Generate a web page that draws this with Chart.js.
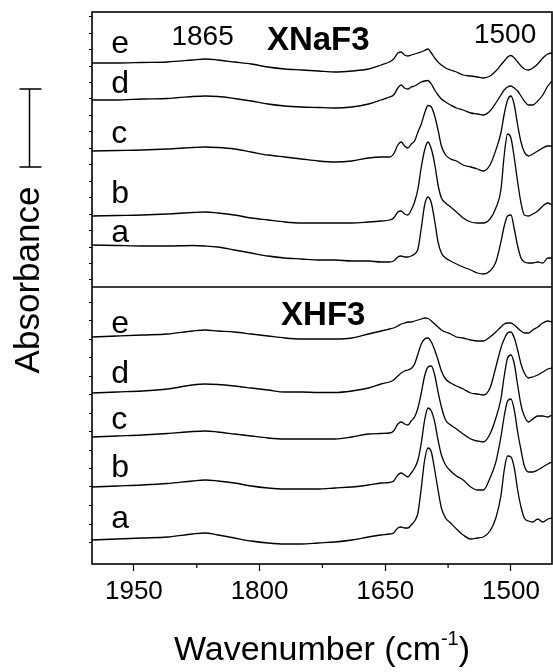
<!DOCTYPE html>
<html>
<head>
<meta charset="utf-8">
<script src="https://cdn.jsdelivr.net/npm/chart.js@4.4.0/dist/chart.umd.min.js"></script>
<style>
  html, body { margin: 0; padding: 0; background: #fff; }
  #wrap { width: 553px; height: 672px; }
</style>
</head>
<body>
<div id="wrap"><canvas id="spectra" width="553" height="672"></canvas></div>
<script>
// wavenumber grid (cm-1), shared by every trace
const wavenumbers = [2000,1970,1940,1910,1880,1865,1850,1830,1810,1790,1770,1750,1730,1710,1690,1670,1655,1645,1640,1635,
  1631,1627,1623,1619,1615,1611,1607,1603,1599,1595,1591,1587,1583,1578,1572,1565,1557,1548,1540,1533,
  1525,1518,1512,1508,1504,1500,1496,1492,1488,1484,1479,1474,1468,1462,1456,1451];

// XNaF3 panel (upper), offset absorbance, arbitrary units
const naE = [501,501,501.5,502,504,505,504,502,500,497,495,494,493,492,493,495,499,502,505,511,512,509,508,509,510,511,512,513.5,515,511,506,502,499,496,494,492,489,488,487,486,488,493,499,503,507,508.5,506,502,498,495,494,496,500,506,510,511];
const naD = [464,464,465,465.5,467.5,468,467.5,465.5,463,460,458,457,456.5,456,457,460,464,467,469,476,479,476,475,477,478,480,482,483,483.5,480,474,469,465,462,459,456,454,451,450,449,453,461,469,474,477,478,476,473,468,463,459,459,463,469,478,483];
const naC = [413,413.5,414,415,416.5,417,416.5,415,412,409,407,405,403,402,403,406,407,407,410,419,422,418,416,420,423,432,440,451,458.5,457,448,434,418,409,405,403,399,397,395,393,399,414,431,450,464,468,459,439,422,412,408,410,413,416,418,418];
const naB = [348,348.5,349,350,351.5,352,351,349,346,344,342,341,341,341,341,342,343,344,346,352,353,350,349,354,362,375,397,414,422,415,400,379,366,361,357,352,346,342,341,341,345,356,374,409,430,426,406,382,361,349,348,350,353,358,361,359];
const naA = [319,318.5,318,318,318.5,318,317,314,311,308,306,305,304,304,303,303,302,302,303,307,308,307,307,308,310,315,336,359,367,361,343,322,311,306,303,300,297,294,291,290,293,302,322,338,348,349,335,318,306,302,301,301,302,301,306,306];

// XHF3 panel (lower)
const hfE = [227,228,229,230,233,234,233,232,230,228,226,225,225,225,226,230,233,235,236,238,240,241,242,242,243,244,245,246,245.5,243,240,237,234,232,230,227,226,224,223,223,227,232,237,240,241,241,239,236,233,231,231,234,237,241,243,242];
const hfD = [171,172,173,175,179,180,179.5,178,176,174,172,172,171.5,171.5,173,176,180,182,184,188,191,193,194,195.5,200,210,220,225,226,222,214,204,193,185,181,178,175,171,170,169,176,197,216,225,231,232,226,214,200,191,186,187,189,192,195,196];
const hfC = [127,128,129,130.5,132.5,133,132,130,128,126,125,125,125,125,127,130,130.5,131,133,140,142,140,139,143,147,156,171,188,197,198,189,172,157,144,139,135,130,125,123,122,130,146,165,188,206,209,200,179,159,148,142,145,148,148,147,149];
const hfB = [77,78,79,80.5,83,84,83,81,78,76,75,75,75,76,77,79,81,81.5,83,89,91,89,87,91,96,104,121,144,156,153,142,124,109,99,93,88,84,77,74,74,86,102,127,148,163,165,154,132,114,98,92,92,94,97,100,102];
const hfA = [24,25,26,27,30,31,29,26,23,21,20,20,21,22,24,27,29,30,31,36,37,36,36,39,43,51,76,104,116,112,94,74,56,46,41,35,29,25,26,27,33,46,68,94,108,107,96,74,57,46,43,42,45,42,45,46];

const traceNames = ['a', 'b', 'c', 'd', 'e'];
const naTraces = [naA, naB, naC, naD, naE];
const hfTraces = [hfA, hfB, hfC, hfD, hfE];

// letter label baselines (same units as the traces)
const naLabelY = [322, 361, 421, 471, 511];
const hfLabelY = [36, 87, 135, 181, 231];
const labelX = 1977;

const majorTicks = [1950, 1800, 1650, 1500];
const minorTicks = [1875, 1725, 1575];
const xMin = 1451, xMax = 2000;
const yMin = 0, yMax = 552, panelSplit = 277;
const scaleBar = [397, 475];   // absorbance scale bar, from / to

const FONT = '"Liberation Sans", Arial, Helvetica, sans-serif';

function toPoints(vals) {
  return wavenumbers.map((w, i) => ({ x: w, y: vals[i] }));
}

const datasets = [];
[naTraces, hfTraces].forEach(group => {
  group.forEach((vals, i) => {
    datasets.push({
      label: traceNames[i],
      data: toPoints(vals),
      borderColor: '#000',
      borderWidth: 1.3,
      pointRadius: 0,
      fill: false,
      cubicInterpolationMode: 'monotone'
    });
  });
});

const decorations = {
  id: 'decorations',
  afterDraw(chart) {
    const { ctx, chartArea: a, scales: { x, y } } = chart;
    ctx.save();
    ctx.strokeStyle = '#000';
    ctx.fillStyle = '#000';
    ctx.lineWidth = 1.6;
    ctx.strokeRect(a.left, a.top, a.right - a.left, a.bottom - a.top);

    // divider between the two panels
    const ySplit = y.getPixelForValue(panelSplit);
    ctx.beginPath();
    ctx.moveTo(a.left, ySplit);
    ctx.lineTo(a.right, ySplit);
    ctx.stroke();

    // minor x ticks
    ctx.lineWidth = 1.2;
    minorTicks.forEach(w => {
      const px = x.getPixelForValue(w);
      ctx.beginPath();
      ctx.moveTo(px, a.bottom);
      ctx.lineTo(px, a.bottom + 4);
      ctx.stroke();
    });

    // trace letters
    ctx.font = '32px ' + FONT;
    ctx.textAlign = 'left';
    ctx.textBaseline = 'alphabetic';
    traceNames.forEach((n, i) => {
      ctx.fillText(n, x.getPixelForValue(labelX), y.getPixelForValue(naLabelY[i]));
      ctx.fillText(n, x.getPixelForValue(labelX), y.getPixelForValue(hfLabelY[i]));
    });

    // panel titles and peak marks
    ctx.textAlign = 'center';
    ctx.font = 'bold 33px ' + FONT;
    ctx.fillText('XNaF3', x.getPixelForValue(1730), y.getPixelForValue(514));
    ctx.fillText('XHF3', x.getPixelForValue(1724), y.getPixelForValue(239));
    ctx.font = '28px ' + FONT;
    ctx.fillText('1865', x.getPixelForValue(1868), y.getPixelForValue(519));
    ctx.fillText('1500', x.getPixelForValue(1507), y.getPixelForValue(521));

    // absorbance scale bar
    const bx = 29.5;
    const b0 = y.getPixelForValue(scaleBar[0]);
    const b1 = y.getPixelForValue(scaleBar[1]);
    ctx.lineWidth = 1.5;
    ctx.beginPath();
    ctx.moveTo(bx, b0); ctx.lineTo(bx, b1);
    ctx.moveTo(bx - 10, b0); ctx.lineTo(bx + 12, b0);
    ctx.moveTo(bx - 10, b1); ctx.lineTo(bx + 12, b1);
    ctx.stroke();

    // y title
    ctx.save();
    ctx.translate(29, 280);
    ctx.rotate(-Math.PI / 2);
    ctx.font = '35px ' + FONT;
    ctx.textAlign = 'center';
    ctx.textBaseline = 'middle';
    ctx.fillText('Absorbance', 0, 0);
    ctx.restore();

    // x title with superscript
    const big = '34px ' + FONT, small = '20px ' + FONT;
    ctx.textAlign = 'left';
    ctx.textBaseline = 'alphabetic';
    ctx.font = big;
    const p1 = 'Wavenumber (cm', p3 = ')';
    const w1 = ctx.measureText(p1).width, w3 = ctx.measureText(p3).width;
    ctx.font = small;
    const p2 = '-1';
    const w2 = ctx.measureText(p2).width;
    let tx = (a.left + a.right) / 2 - (w1 + w2 + w3) / 2;
    const base = 660;
    ctx.font = big;
    ctx.fillText(p1, tx, base);
    tx += w1;
    ctx.font = small;
    ctx.fillText(p2, tx, base - 15);
    tx += w2;
    ctx.font = big;
    ctx.fillText(p3, tx, base);
    ctx.restore();
  }
};

new Chart(document.getElementById('spectra'), {
  type: 'line',
  data: { datasets },
  options: {
    responsive: false,
    animation: false,
    devicePixelRatio: 1,
    events: [],
    layout: { padding: { top: 12, right: 1, left: 0, bottom: 0 } },
    plugins: { legend: { display: false }, tooltip: { enabled: false } },
    scales: {
      x: {
        type: 'linear',
        reverse: true,
        min: xMin,
        max: xMax,
        border: { display: false },
        grid: { drawOnChartArea: false, tickLength: 7, tickColor: '#000', tickWidth: 1.2 },
        ticks: {
          color: '#000',
          font: { family: FONT, size: 26 },
          padding: 5,
          maxRotation: 0,
          callback: v => String(v)
        },
        afterBuildTicks: s => { s.ticks = majorTicks.map(v => ({ value: v })); },
        afterFit: s => { s.height = 108; }
      },
      y: {
        min: yMin,
        max: yMax,
        border: { display: false },
        grid: { drawOnChartArea: false, tickLength: 3, tickColor: '#000', tickWidth: 1 },
        ticks: { display: false },
        afterBuildTicks: s => {
          const t = [];
          for (let k = 0; k <= 16; k++) t.push({ value: 547.3 - 16.45 * k });
          for (let k = 0; k <= 13; k++) t.push({ value: 262 - 18.5 * k });
          s.ticks = t;
        },
        afterFit: s => { s.width = 92; }
      }
    }
  },
  plugins: [decorations]
});
</script>
</body>
</html>
